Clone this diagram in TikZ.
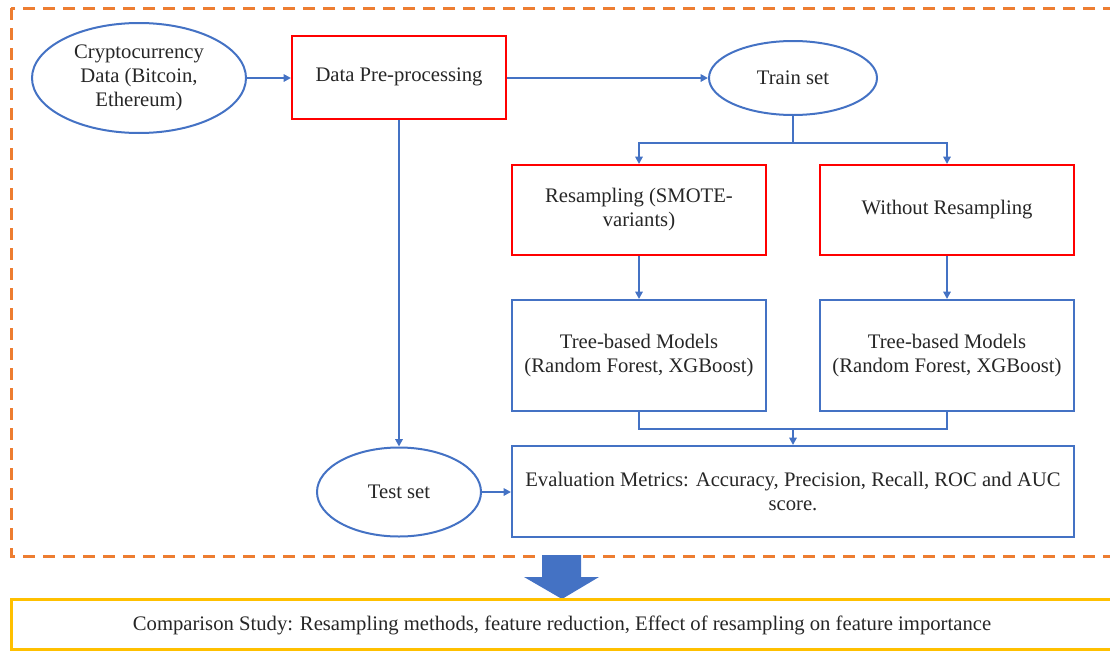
\documentclass[tikz,border=0pt]{standalone}
\usepackage{fontspec}
\setmainfont{Liberation Serif}
\usetikzlibrary{arrows.meta,shapes.geometric}

\definecolor{lineblue}{RGB}{68,114,196}
\definecolor{linered}{RGB}{255,0,0}
\definecolor{frameorange}{RGB}{237,125,49}
\definecolor{frameyellow}{RGB}{255,192,0}

\tikzset{
  txt/.style={font=\fontsize{15.5}{18}\selectfont, align=center, text=black!85},
  oval/.style={txt, ellipse, draw=lineblue, line width=1.5pt, inner sep=0pt},
  redbox/.style={txt, rectangle, draw=linered, line width=1.5pt, minimum width=190.5pt, minimum height=67.5pt},
  bluebox/.style={txt, rectangle, draw=lineblue, line width=1.5pt, minimum width=190.5pt, minimum height=83.25pt},
  link/.style={draw=lineblue, line width=1.5pt},
  flow/.style={link, -{Triangle[length=5.5pt,width=5.5pt]}},
}

\begin{document}
\begin{tikzpicture}[x=0.75pt, y=-0.75pt]
\useasboundingbox (0,0) rectangle (1110,650);
\clip (0,0) rectangle (1110,650);

% outer dashed frame
\draw[frameorange, line width=2.25pt, dash pattern=on 9pt off 6pt] (11,8) rectangle (1125,556);

% top row
\node[oval, minimum width=160.5pt, minimum height=82.5pt] (crypto) at (139,78) {Cryptocurrency\\Data (Bitcoin,\\Ethereum)};
\node[redbox, minimum width=160.5pt, minimum height=62.25pt] (prep) at (399,77) {Data Pre-processing};
\node[oval, minimum width=126pt, minimum height=55.5pt] (train) at (793,78) {Train set};

% two branches
\node[redbox] (resamp) at (639,210) {Resampling (SMOTE-\\variants)};
\node[redbox] (nosamp) at (947,210) {Without Resampling};
\node[bluebox] (treeA) at (639,355.5) {Tree-based Models\\(Random Forest, XGBoost)};
\node[bluebox] (treeB) at (947,355.5) {Tree-based Models\\(Random Forest, XGBoost)};

% evaluation row
\node[oval, minimum width=123pt, minimum height=66.75pt] (test) at (399,492) {Test set};
\node[bluebox, minimum width=421.5pt, minimum height=68.25pt] (eval) at (793,491.5) {Evaluation Metrics: Accuracy, Precision, Recall, ROC and AUC\\score.};

\coordinate (split) at (793,143);
\coordinate (merge) at (793,429);

\draw[flow] (crypto.east) -- (crypto.east -| prep.west);
\draw[flow] (prep.east |- train.west) -- (train.west);
\draw[flow] (prep.south) -- (test.north);
\draw[link] (train.south) -- (split);
\draw[flow] (split) -| (resamp.north);
\draw[flow] (split) -| (nosamp.north);
\draw[flow] (resamp) -- (treeA);
\draw[flow] (nosamp) -- (treeB);
\draw[link] (treeA.south) |- (merge) -| (treeB.south);
\draw[flow] (merge) -- (eval.north);
\draw[flow] (test.east) -- (test.east -| eval.west);

% big down arrow
\fill[lineblue] (542,555) -- (581,555) -- (581,577) -- (599,577) -- (562,599) -- (524,577) -- (542,577) -- cycle;

% comparison box
\draw[frameyellow, line width=2.25pt] (11,599) rectangle (1125,649);
\node[txt] (study) at (562,625) {Comparison Study: Resampling methods, feature reduction, Effect of resampling on feature importance};
\end{tikzpicture}
\end{document}
